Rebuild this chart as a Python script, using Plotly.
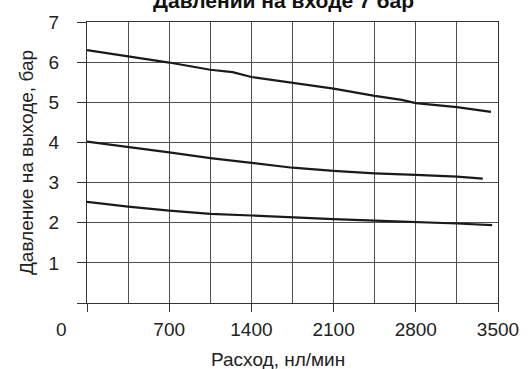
import plotly.graph_objects as go

# Data
flow_top = [0, 350, 700, 1050, 1240, 1400, 1750, 2100, 2450, 2680, 2800, 3150, 3440]
press_top = [6.30, 6.15, 5.99, 5.81, 5.75, 5.63, 5.49, 5.34, 5.16, 5.06, 4.98, 4.88, 4.76]

flow_mid = [0, 350, 700, 1050, 1400, 1750, 2100, 2450, 2800, 3150, 3370]
press_mid = [4.02, 3.89, 3.75, 3.61, 3.49, 3.37, 3.29, 3.23, 3.19, 3.15, 3.10]

flow_low = [0, 350, 700, 1050, 1400, 1750, 2100, 2450, 2800, 3150, 3450]
press_low = [2.52, 2.40, 2.30, 2.22, 2.18, 2.13, 2.09, 2.05, 2.02, 1.98, 1.94]

x_ticks = [0, 700, 1400, 2100, 2800, 3500]
x_ticklabels = ["", "700", "1400", "2100", "2800", "3500"]
y_ticks = [0, 1, 2, 3, 4, 5, 6, 7]
y_ticklabels = ["", "1", "2", "3", "4", "5", "6", "7"]

title_text = "<b>Давлении на входе 7 бар</b>"
x_title = "Расход, нл/мин"
y_title = "Давление на выходе, бар"

W, H = 531, 369
ML, MR, MT, MB = 87, 31, 14, 66
PW = W - ML - MR
PH = H - MT - MB

def px_x(px):
    return (px - ML) / PW

def px_y(py):
    return 1 - (py - MT) / PH

FONT = "Liberation Sans, Arial, sans-serif"
LINE_COLOR = "#1a1a1a"
GRID = "#505050"
FS = 19

fig = go.Figure()
for xs, ys in [(flow_top, press_top), (flow_mid, press_mid), (flow_low, press_low)]:
    fig.add_trace(go.Scatter(x=xs, y=ys, mode="lines",
                             line=dict(color=LINE_COLOR, width=2.2),
                             showlegend=False, hoverinfo="skip"))

fig.update_layout(
    width=W, height=H,
    margin=dict(l=ML, r=MR, t=MT, b=MB, pad=0),
    paper_bgcolor="white", plot_bgcolor="white",
    font=dict(family=FONT, size=FS, color="#222"),
)

fig.update_xaxes(
    range=[0, 3500], tickmode="array", tickvals=x_ticks, ticktext=x_ticklabels,
    ticks="outside", ticklen=8, tickwidth=1, tickcolor="#333",
    showgrid=True, gridcolor=GRID, gridwidth=1,
    minor=dict(dtick=350, tick0=0, showgrid=True, gridcolor=GRID, gridwidth=1, ticks=""),
    showline=True, linecolor="#333", linewidth=1, mirror=True,
    zeroline=False, tickfont=dict(size=FS, family=FONT, color="#222"),
    ticklabelstandoff=1,
)
fig.update_yaxes(
    range=[0, 7], tickmode="array", tickvals=y_ticks, ticktext=y_ticklabels,
    ticks="outside", ticklen=9, tickwidth=1, tickcolor="#333",
    showgrid=True, gridcolor=GRID, gridwidth=1,
    showline=True, linecolor="#333", linewidth=1, mirror=True,
    zeroline=False, tickfont=dict(size=FS, family=FONT, color="#222"),
    ticklabelstandoff=14,
    title=dict(text=y_title, font=dict(size=FS, family=FONT, color="#222"), standoff=9),
)

# Title (partially clipped at top like the reference)
fig.add_annotation(text=title_text, xref="paper", yref="paper",
                   x=px_x(284), y=px_y(-8.5), xanchor="center", yanchor="middle",
                   showarrow=False, font=dict(size=21, family=FONT, color="#111"))
# X axis title
fig.add_annotation(text=x_title, xref="paper", yref="paper",
                   x=px_x(279), y=px_y(361), xanchor="center", yanchor="middle",
                   showarrow=False, font=dict(size=FS, family=FONT, color="#222"))
# Corner "0" label
fig.add_annotation(text="0", xref="paper", yref="paper",
                   x=px_x(61), y=px_y(330), xanchor="center", yanchor="middle",
                   showarrow=False, font=dict(size=FS, family=FONT, color="#222"))

fig.write_html("out.html")
